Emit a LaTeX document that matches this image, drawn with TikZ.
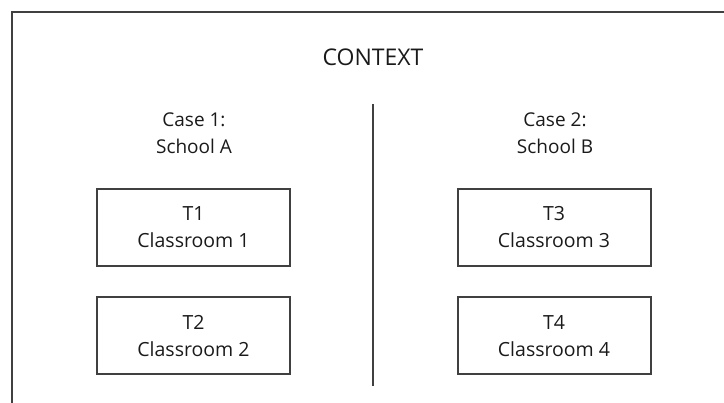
\documentclass[tikz,border=0pt]{standalone}
\usepackage{fontspec}
\setmainfont{Open Sans}
\definecolor{linec}{HTML}{404040}
\definecolor{textc}{HTML}{1A1A1A}
\begin{document}
\begin{tikzpicture}[x=1pt,y=-1pt,
  framebox/.style={draw=linec,line width=2pt},
  room/.style={draw=linec,line width=2pt,minimum width=193pt,minimum height=77pt,align=center,font=\fontsize{19.5}{27}\selectfont,text=textc,inner sep=0pt},
  lab/.style={align=center,font=\fontsize{19}{27.5}\selectfont,text=textc}]
\useasboundingbox (0,0) rectangle (724,403);
\draw[framebox] (12,410) -- (12,12) -- (730,12);
\node[font=\fontsize{23}{26}\selectfont,text=textc] (ctx) at (373,57) {CONTEXT};
\node[lab] (case1) at (194,133) {Case 1:\\School A};
\node[lab] (case2) at (555,133) {Case 2:\\School B};
\node[room] (t1) at (193.5,227.5) {T1\\Classroom 1};
\node[room] (t2) at (193.5,336) {T2\\Classroom 2};
\node[room] (t3) at (554,227.5) {T3\\Classroom 3};
\node[room] (t4) at (554,336) {T4\\Classroom 4};
\coordinate (vtop) at (373,104);
\coordinate (vbot) at (373,386);
\draw[linec,line width=2.5pt] (vtop) -- (vbot);
\end{tikzpicture}
\end{document}
